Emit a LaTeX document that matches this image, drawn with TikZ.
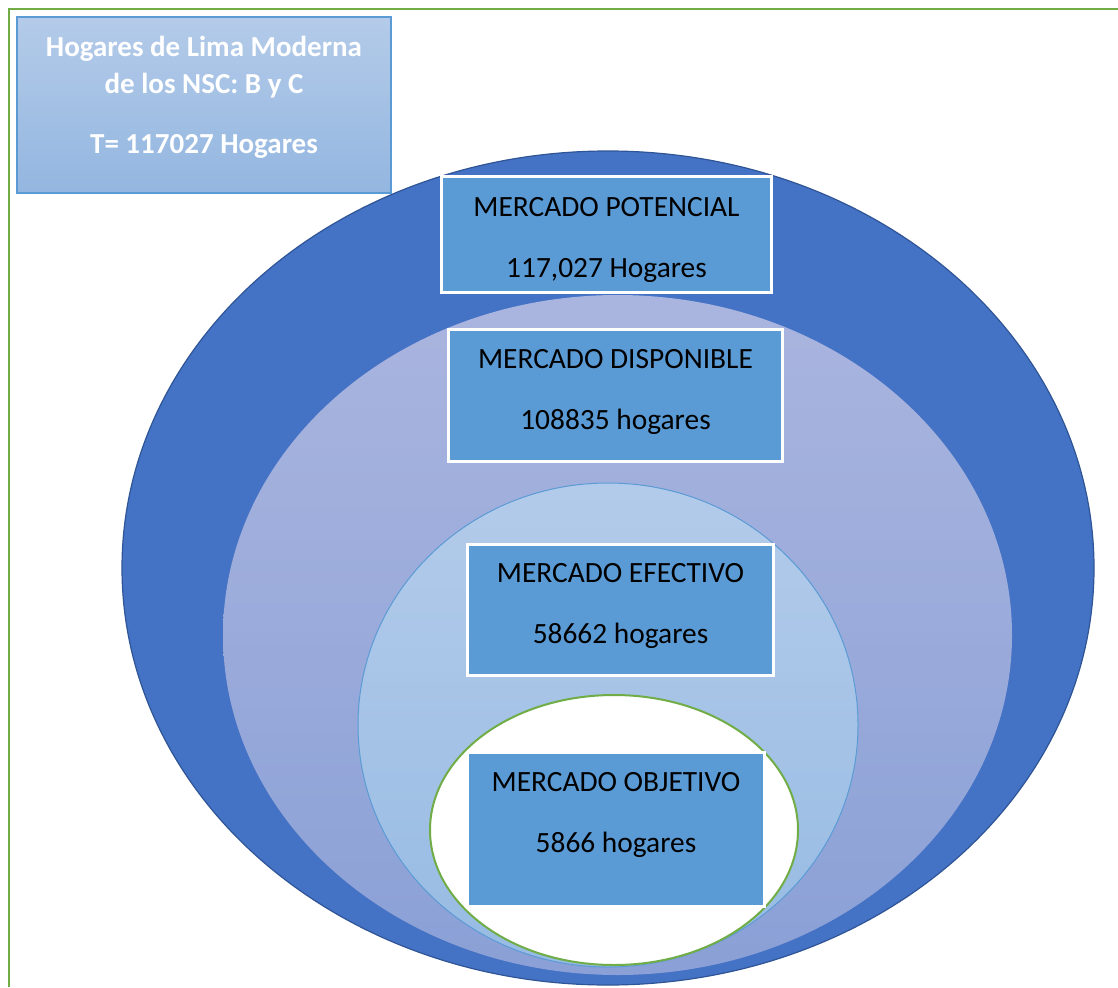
\documentclass[tikz,border=0pt]{standalone}
\usepackage{fontspec}
\setmainfont{Carlito}
\definecolor{marco}{HTML}{70AD47}
\definecolor{azul}{HTML}{4472C4}
\definecolor{azulborde}{HTML}{2F5597}
\definecolor{lilaarriba}{HTML}{AAB5DF}
\definecolor{lilaabajo}{HTML}{8AA0D6}
\definecolor{celestearriba}{HTML}{B3CBEA}
\definecolor{celesteabajo}{HTML}{97BBE3}
\definecolor{cajaazul}{HTML}{5B9BD5}
\definecolor{tituloarriba}{HTML}{B4CBE9}
\definecolor{tituloabajo}{HTML}{93B6E0}
\tikzset{
  mercado/.style={fill=cajaazul, draw=white, line width=3pt, inner sep=0pt},
  cifra/.style={align=center, text=black, anchor=base,
    font=\fontsize{29.4}{36}\selectfont, inner sep=0pt},
  titulo/.style={align=center, text=white, anchor=base,
    font=\fontsize{29}{37}\selectfont\bfseries, inner sep=0pt}
}
\begin{document}
\begin{tikzpicture}[x=1pt,y=-1pt]
	\useasboundingbox (0,0) rectangle (1118,987);

	% marco
	\draw[marco, line width=2.5pt] (1118,9) -- (9,9) -- (9,987);

	% potencial
	\fill[azul] (608,568) ellipse [x radius=486pt, y radius=417pt];
	\draw[azulborde, line width=1.2pt] (608,568) ellipse [x radius=486pt, y radius=417pt];

	% disponible
	\shade[top color=lilaarriba, bottom color=lilaabajo] (617.5,635) ellipse [x radius=394.5pt, y radius=340pt];

	% efectivo
	\shade[top color=celestearriba, bottom color=celesteabajo] (608,725) ellipse [x radius=250pt, y radius=242pt];
	\draw[cajaazul, line width=1pt] (608,725) ellipse [x radius=250pt, y radius=242pt];

	% objetivo
	\filldraw[fill=white, draw=marco, line width=2pt] (614,830) ellipse [x radius=184pt, y radius=135pt];

	% cajas
	\node[mercado, minimum width=330pt, minimum height=116pt] (potencial) at (606.5,234.5) {};
	\node[mercado, minimum width=334pt, minimum height=132pt] (disponible) at (615.5,395.5) {};
	\node[mercado, minimum width=306pt, minimum height=131pt] (efectivo) at (620.5,610) {};
	\node[mercado, minimum width=297pt, minimum height=154pt] (objetivo) at (616,829.5) {};

	% textos de las cajas
	\node[cifra] (potencial texto) at (potencial.center |- 0,277)
		{MERCADO POTENCIAL\\[25pt]117,027 Hogares};
	\node[cifra] (disponible texto) at (disponible.center |- 0,429)
		{MERCADO DISPONIBLE\\[25pt]108835 hogares};
	\node[cifra] (efectivo texto) at (efectivo.center |- 0,643)
		{MERCADO EFECTIVO\\[25pt]58662 hogares};
	\node[cifra] (objetivo texto) at (objetivo.center |- 0,852)
		{MERCADO OBJETIVO\\[25pt]5866 hogares};

	% total
	\shade[top color=tituloarriba, bottom color=tituloabajo, draw=cajaazul, line width=1.2pt]
		(17,17) rectangle (391,193);
	\node[titulo] (total) at (204,154)
		{Hogares de Lima Moderna\\de los NSC: B y C\\[23pt]T= 117027 Hogares};

\end{tikzpicture}
\end{document}
